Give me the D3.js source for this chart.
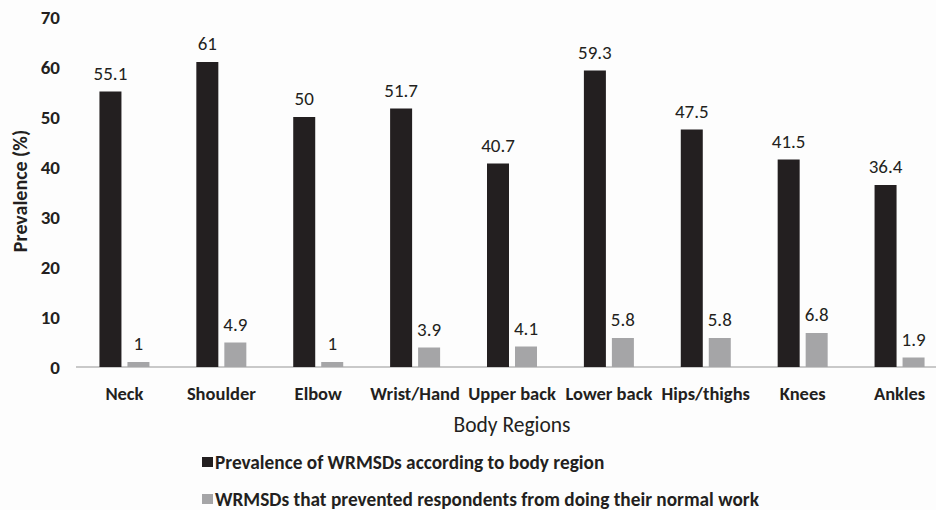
<html><head>
<script src="https://d3js.org/d3.v7.min.js"></script>
<style>
  body { margin: 0; background: #fdfdfd; }
  svg text { font-family: Carlito, Calibri, Lato, sans-serif; fill: #231f20; }
  .tick text { font-size: 19px; font-weight: 700; }
  .val { font-size: 19px; }
  .cat { font-size: 18.5px; font-weight: 700; }
</style>
</head>
<body>
<svg id="chart" width="936" height="510"></svg>
<script>
  const regions = ["Neck", "Shoulder", "Elbow", "Wrist/Hand", "Upper back", "Lower back", "Hips/thighs", "Knees", "Ankles"];
  const prevalence = [55.1, 61, 50, 51.7, 40.7, 59.3, 47.5, 41.5, 36.4];
  const prevented = [1, 4.9, 1, 3.9, 4.1, 5.8, 5.8, 6.8, 1.9];
  const yTicks = [0, 10, 20, 30, 40, 50, 60, 70];
  const seriesNames = ["Prevalence of WRMSDs according to body region",
                       "WRMSDs that prevented respondents from doing their normal work"];
  const seriesColors = ["#231f20", "#a5a5a7"];

  const svg = d3.select("#chart");

  // plot area
  const x = d3.scaleBand().domain(regions).range([76, 948]);
  const y = d3.scaleLinear().domain([0, 70]).range([367, 17]);
  const barW = 22, gap = 6;

  // baseline
  svg.append("line")
    .attr("x1", 76).attr("x2", 936)
    .attr("y1", y(0)).attr("y2", y(0))
    .attr("stroke", "#c9c9c9").attr("stroke-width", 2);

  // y axis (labels only)
  const yAxis = svg.append("g").attr("transform", "translate(60,0)")
    .call(d3.axisLeft(y).tickValues(yTicks).tickSize(0).tickPadding(0));
  yAxis.select(".domain").remove();

  svg.append("text")
    .attr("transform", "translate(27," + 191 + ") rotate(-90)")
    .attr("text-anchor", "middle")
    .attr("font-size", 20).attr("font-weight", 700)
    .text("Prevalence (%)");

  const series = [prevalence, prevented];
  series.forEach((vals, s) => {
    const off = s === 0 ? -barW - gap / 2 : gap / 2;
    const g = svg.append("g");
    g.selectAll("rect").data(regions).join("rect")
      .attr("x", d => x(d) + x.bandwidth() / 2 + off)
      .attr("y", (d, i) => y(vals[i]))
      .attr("width", barW)
      .attr("height", (d, i) => y(0) - y(vals[i]))
      .attr("fill", seriesColors[s]);
    g.selectAll("text").data(regions).join("text")
      .attr("class", "val")
      .attr("x", d => x(d) + x.bandwidth() / 2 + off + barW / 2)
      .attr("y", (d, i) => y(vals[i]) - 12)
      .attr("text-anchor", "middle")
      .text((d, i) => vals[i]);
  });

  // category labels
  svg.append("g").selectAll("text").data(regions).join("text")
    .attr("class", "cat")
    .attr("x", d => x(d) + x.bandwidth() / 2)
    .attr("y", 400)
    .attr("text-anchor", "middle")
    .text(d => d);

  svg.append("text")
    .attr("x", 512).attr("y", 432)
    .attr("text-anchor", "middle")
    .attr("font-size", 21.5)
    .text("Body Regions");

  // legend
  const legend = svg.append("g").selectAll("g").data(seriesNames).join("g")
    .attr("transform", (d, i) => "translate(202," + (462 + i * 37) + ")");
  legend.append("rect")
    .attr("x", 0).attr("y", -5).attr("width", 11).attr("height", 10)
    .attr("fill", (d, i) => seriesColors[i]);
  legend.append("text")
    .attr("x", 13).attr("y", 7)
    .attr("font-size", 19.3).attr("font-weight", 700)
    .text(d => d);
</script>
</body>
</html>
